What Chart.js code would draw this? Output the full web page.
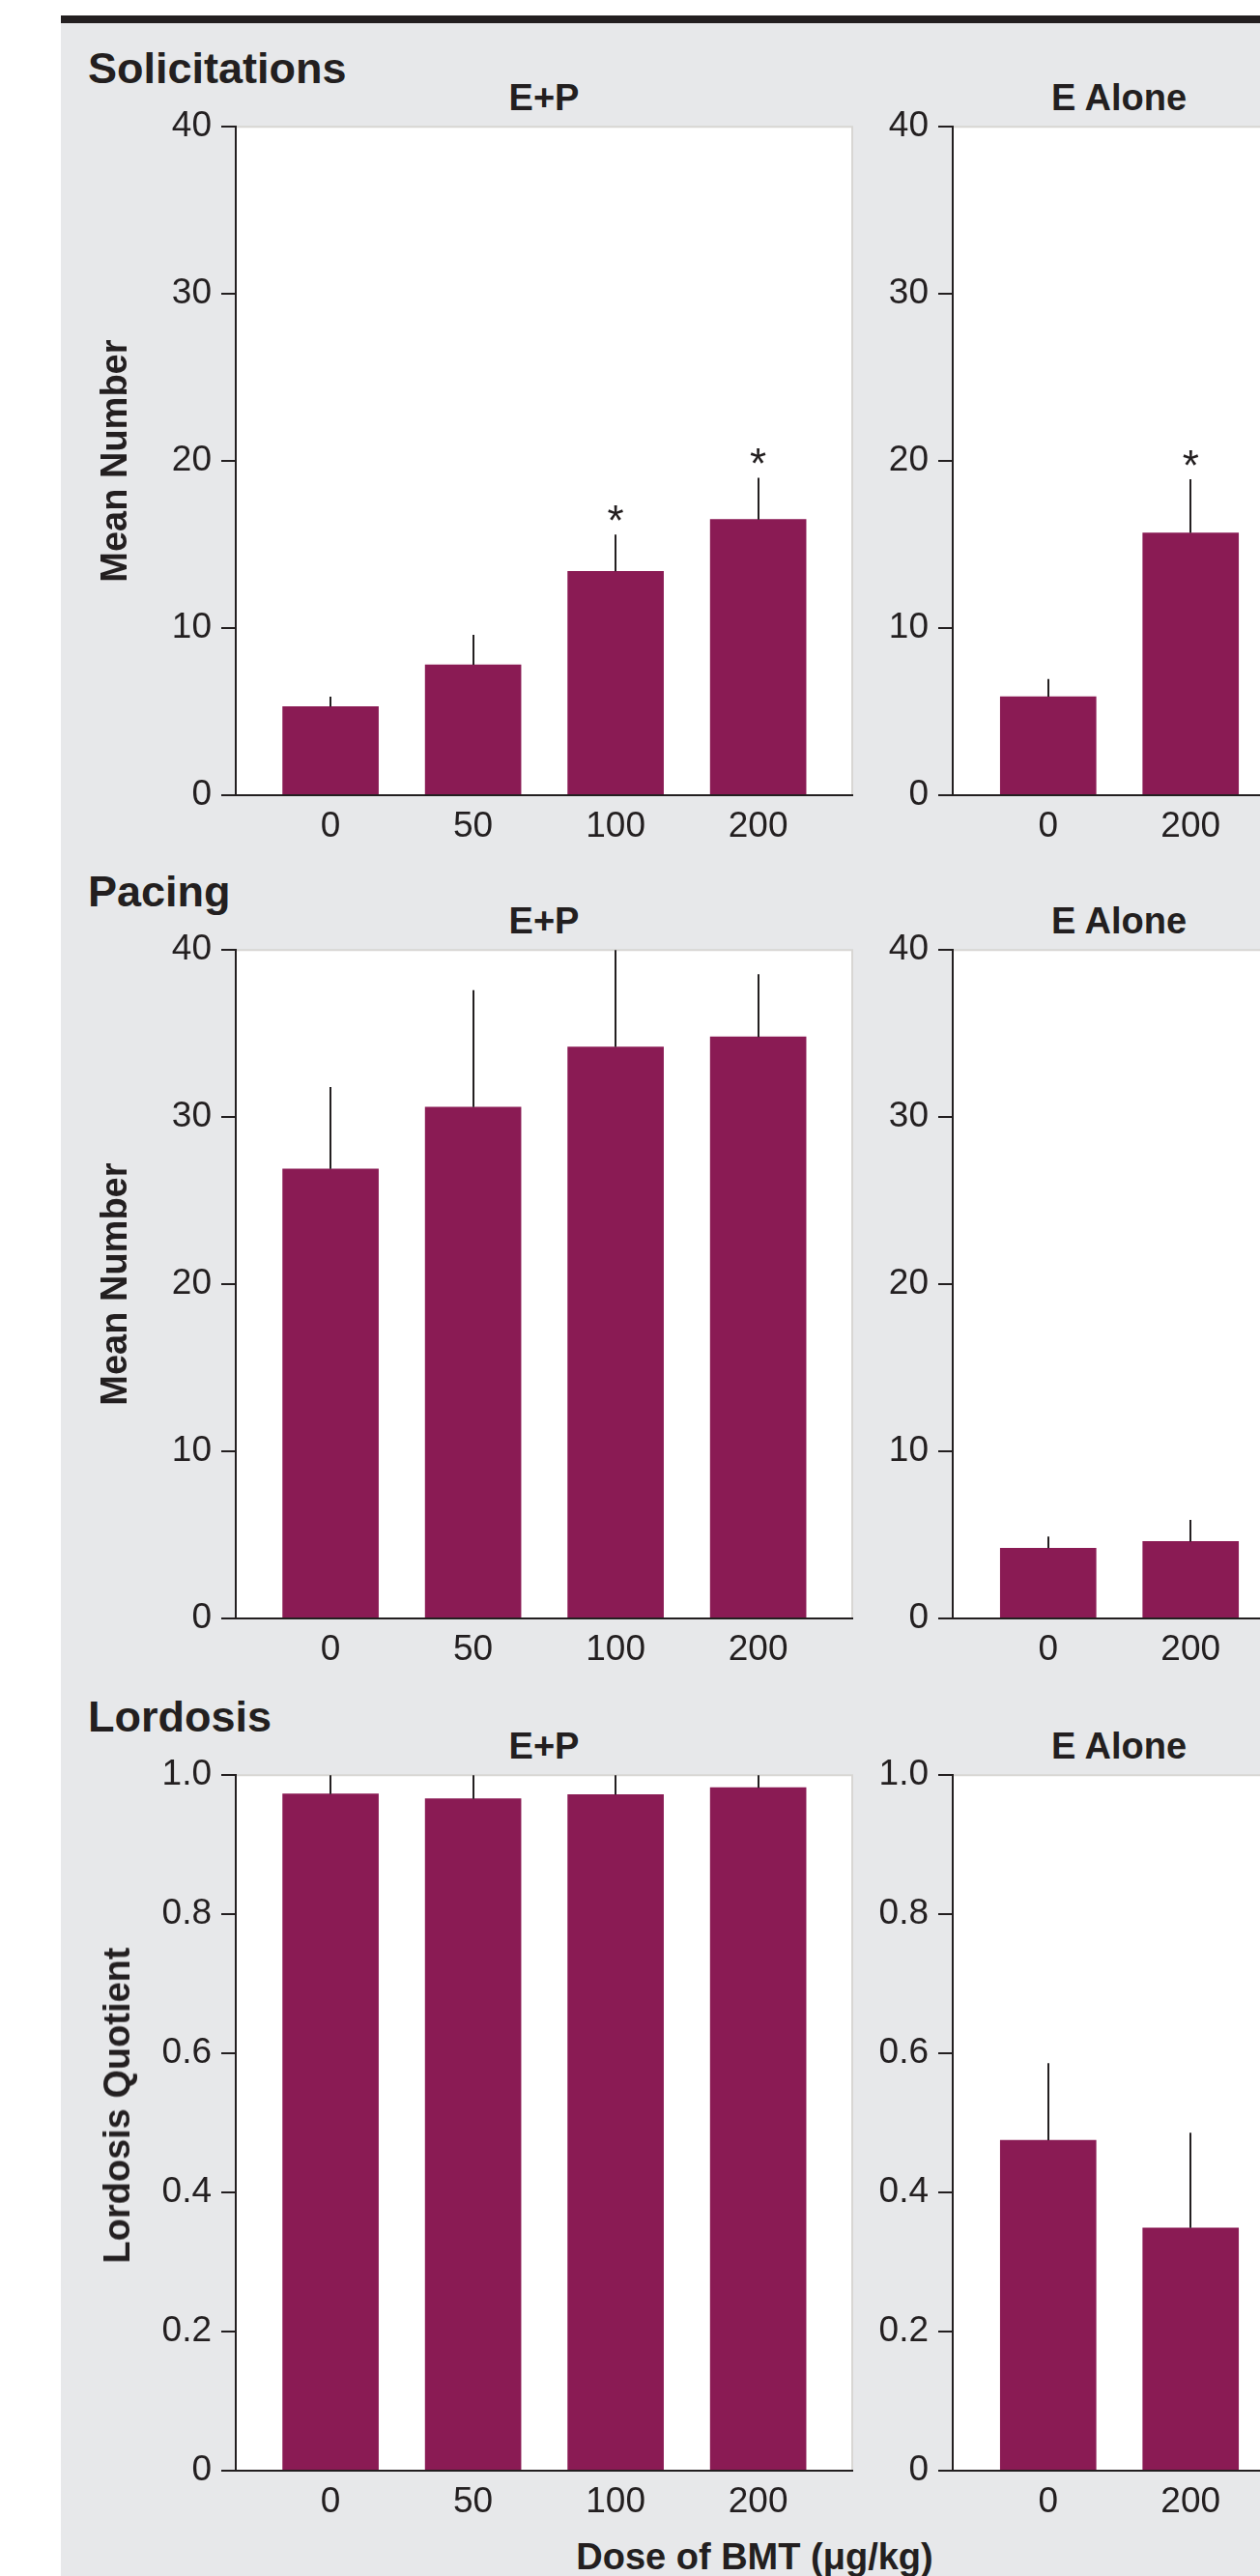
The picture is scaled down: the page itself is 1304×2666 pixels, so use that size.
<!DOCTYPE html>
<html>
<head>
<meta charset="utf-8">
<script src="https://cdn.jsdelivr.net/npm/chart.js@4.4.1/dist/chart.umd.min.js"></script>
<style>
  html, body { margin: 0; padding: 0; }
  body { width: 1304px; height: 2666px; overflow: hidden; position: relative; background: #ffffff;
         font-family: "Liberation Sans", Arial, Helvetica, sans-serif; color: #231f20; }
  #panel { position: absolute; left: 63px; top: 24px; width: 1241px; height: 2642px; background: #e7e8ea; }
  #topbar { position: absolute; left: 63px; top: 16px; width: 1241px; height: 8px; background: #231f20; }
  .txt { position: absolute; white-space: nowrap; line-height: 1; font-weight: bold; }
  .sec { font-size: 45px; }
  .sub { font-size: 38px; width: 400px; text-align: center; }
  .rot { font-size: 38px; transform: translate(-50%, -50%) rotate(-90deg); z-index: 2; }
  canvas { position: absolute; }
</style>
</head>
<body>
<div id="panel"></div>
<div id="topbar"></div>

<div class="txt sec" style="left:91px; top:48px;">Solicitations</div>
<div class="txt sub" style="left:363px; top:82px;">E+P</div>
<div class="txt sub" style="left:958px; top:82px;">E Alone</div>

<div class="txt sec" style="left:91px; top:900px;">Pacing</div>
<div class="txt sub" style="left:363px; top:934px;">E+P</div>
<div class="txt sub" style="left:958px; top:934px;">E Alone</div>

<div class="txt sec" style="left:91px; top:1754px;">Lordosis</div>
<div class="txt sub" style="left:363px; top:1788px;">E+P</div>
<div class="txt sub" style="left:958px; top:1788px;">E Alone</div>

<div class="txt sub" style="left:581px; top:2627px;">Dose of BMT (μg/kg)</div>

<canvas id="c1"></canvas>
<canvas id="c2"></canvas>
<canvas id="c3"></canvas>
<canvas id="c4"></canvas>
<canvas id="c5"></canvas>
<canvas id="c6"></canvas>

<div class="txt rot" style="left:121px; top:2179px;">Lordosis Quotient</div>

<script>
// ---------------- data ----------------
const doseEP = ['0', '50', '100', '200'];
const doseE = ['0', '200'];

const countTicks = [0, 10, 20, 30, 40];
const countTickLabels = ['0', '10', '20', '30', '40'];
const lqTicks = [0, 0.2, 0.4, 0.6, 0.8, 1.0];
const lqTickLabels = ['0', '0.2', '0.4', '0.6', '0.8', '1.0'];

const solicitEP = [5.3, 7.8, 13.4, 16.5];
const solicitEPsem = [0.6, 1.8, 2.2, 2.5];
const solicitEPsig = [false, false, true, true];
const solicitE = [5.9, 15.7];
const solicitEsem = [1.05, 3.2];
const solicitEsig = [false, true];

const pacingEP = [26.9, 30.6, 34.2, 34.8];
const pacingEPsem = [4.9, 7.0, 6.0, 3.75];
const pacingEPsig = [false, false, false, false];
const pacingE = [4.2, 4.6];
const pacingEsem = [0.7, 1.3];
const pacingEsig = [false, false];

const lordEP = [0.973, 0.966, 0.972, 0.982];
const lordEPsem = [0.03, 0.035, 0.03, 0.025];
const lordEPsig = [false, false, false, false];
const lordE = [0.475, 0.349];
const lordEsem = [0.111, 0.137];
const lordEsig = [false, false];

// ---------------- styling ----------------
const INK = '#231f20';
const BAR = '#8a1b54';
const FONT = '"Liberation Sans", Arial, Helvetica, sans-serif';

const panelPlugin = {
  id: 'panelDeco',
  beforeDraw(chart) {
    const { ctx, chartArea: a } = chart;
    ctx.save();
    ctx.fillStyle = '#ffffff';
    ctx.fillRect(a.left, a.top, a.right - a.left, a.bottom - a.top);
    ctx.strokeStyle = '#d8d6d3';
    ctx.lineWidth = 2;
    ctx.beginPath();
    ctx.moveTo(a.left, a.top);
    ctx.lineTo(a.right, a.top);
    ctx.lineTo(a.right, a.bottom);
    ctx.stroke();
    ctx.restore();
  },
  afterDatasetsDraw(chart) {
    const ds = chart.data.datasets[0];
    const xs = chart.scales.x, ys = chart.scales.y;
    const { ctx, chartArea: a } = chart;
    ctx.save();
    ctx.beginPath();
    ctx.rect(a.left, a.top, a.right - a.left, a.bottom - a.top);
    ctx.clip();
    ctx.strokeStyle = INK;
    ctx.lineWidth = 2;
    ds.data.forEach((p, i) => {
      const px = Math.round(xs.getPixelForValue(p.x));
      const y0 = ys.getPixelForValue(p.y);
      const y1 = ys.getPixelForValue(p.y + ds.sem[i]);
      ctx.beginPath();
      ctx.moveTo(px, y0);
      ctx.lineTo(px, y1);
      ctx.stroke();
    });
    ctx.restore();
    ctx.save();
    ctx.fillStyle = INK;
    ctx.font = '44px ' + FONT;
    ctx.textAlign = 'center';
    ctx.textBaseline = 'alphabetic';
    ds.data.forEach((p, i) => {
      if (!ds.sig[i]) return;
      const px = xs.getPixelForValue(p.x);
      const y1 = ys.getPixelForValue(p.y + ds.sem[i]);
      ctx.fillText('*', px, y1 + 1);
    });
    ctx.restore();
  }
};

function makeChart(id, o) {
  const cv = document.getElementById(id);
  cv.width = o.width; cv.height = o.height;
  cv.style.left = o.left + 'px'; cv.style.top = o.top + 'px';
  cv.style.width = o.width + 'px'; cv.style.height = o.height + 'px';
  return new Chart(cv, {
    type: 'bar',
    data: {
      datasets: [{
        data: o.values.map((v, i) => ({ x: i, y: v })),
        sem: o.sem,
        sig: o.sig,
        backgroundColor: BAR,
        borderWidth: 0,
        barThickness: 99
      }]
    },
    options: {
      responsive: false,
      animation: false,
      devicePixelRatio: 1,
      layout: { padding: { top: 30, right: 4, left: 0, bottom: 0 } },
      plugins: { legend: { display: false }, tooltip: { enabled: false } },
      scales: {
        x: {
          type: 'linear',
          offset: false,
          min: o.xMin, max: o.xMax,
          afterBuildTicks: s => { s.ticks = o.labels.map((_, i) => ({ value: i })); },
          afterFit: s => { s.height = 70; },
          ticks: {
            autoSkip: false, maxRotation: 0, padding: 11,
            color: INK, font: { family: FONT, size: 37 },
            callback: (v, i) => o.labels[i]
          },
          grid: { display: false, drawTicks: false, offset: false },
          border: { display: true, color: INK, width: 2, z: 1 }
        },
        y: {
          min: 0, max: o.yMax,
          afterBuildTicks: s => { s.ticks = o.yTicks.map(v => ({ value: v })); },
          afterFit: s => { s.width = o.yWidth; },
          ticks: {
            padding: 10, color: INK, font: { family: FONT, size: 37 },
            callback: (v, i) => o.yTickLabels[i]
          },
          grid: { drawOnChartArea: false, drawTicks: true, tickLength: 15, color: INK, lineWidth: 2 },
          border: { display: true, color: INK, width: 2, z: 1 },
          title: {
            display: !!o.yTitle, text: o.yTitle || '',
            color: INK, font: { family: FONT, size: 38, weight: 'bold' },
            padding: { top: 35, bottom: 0 }
          }
        }
      }
    },
    plugins: [panelPlugin]
  });
}

const rows = [
  { top: 99, plotH: 694, yMax: 40, yTicks: countTicks, yTickLabels: countTickLabels, yTitle: 'Mean Number',
    ep: [solicitEP, solicitEPsem, solicitEPsig], e: [solicitE, solicitEsem, solicitEsig] },
  { top: 951, plotH: 694, yMax: 40, yTicks: countTicks, yTickLabels: countTickLabels, yTitle: 'Mean Number',
    ep: [pacingEP, pacingEPsem, pacingEPsig], e: [pacingE, pacingEsem, pacingEsig] },
  { top: 1805, plotH: 722, yMax: 1.0, yTicks: lqTicks, yTickLabels: lqTickLabels, yTitle: null,
    ep: [lordEP, lordEPsem, lordEPsig], e: [lordE, lordEsem, lordEsig] }
];

rows.forEach((r, k) => {
  const h = r.plotH + 100;
  makeChart('c' + (2 * k + 1), {
    left: 63, top: r.top, width: 823, height: h, yWidth: 181,
    xMin: -0.665, xMax: 3.66, labels: doseEP,
    values: r.ep[0], sem: r.ep[1], sig: r.ep[2],
    yMax: r.yMax, yTicks: r.yTicks, yTickLabels: r.yTickLabels, yTitle: r.yTitle
  });
  makeChart('c' + (2 * k + 2), {
    left: 900, top: r.top, width: 435, height: h, yWidth: 86,
    xMin: -0.67, xMax: 1.67, labels: doseE,
    values: r.e[0], sem: r.e[1], sig: r.e[2],
    yMax: r.yMax, yTicks: r.yTicks, yTickLabels: r.yTickLabels, yTitle: null
  });
});
</script>
</body>
</html>
